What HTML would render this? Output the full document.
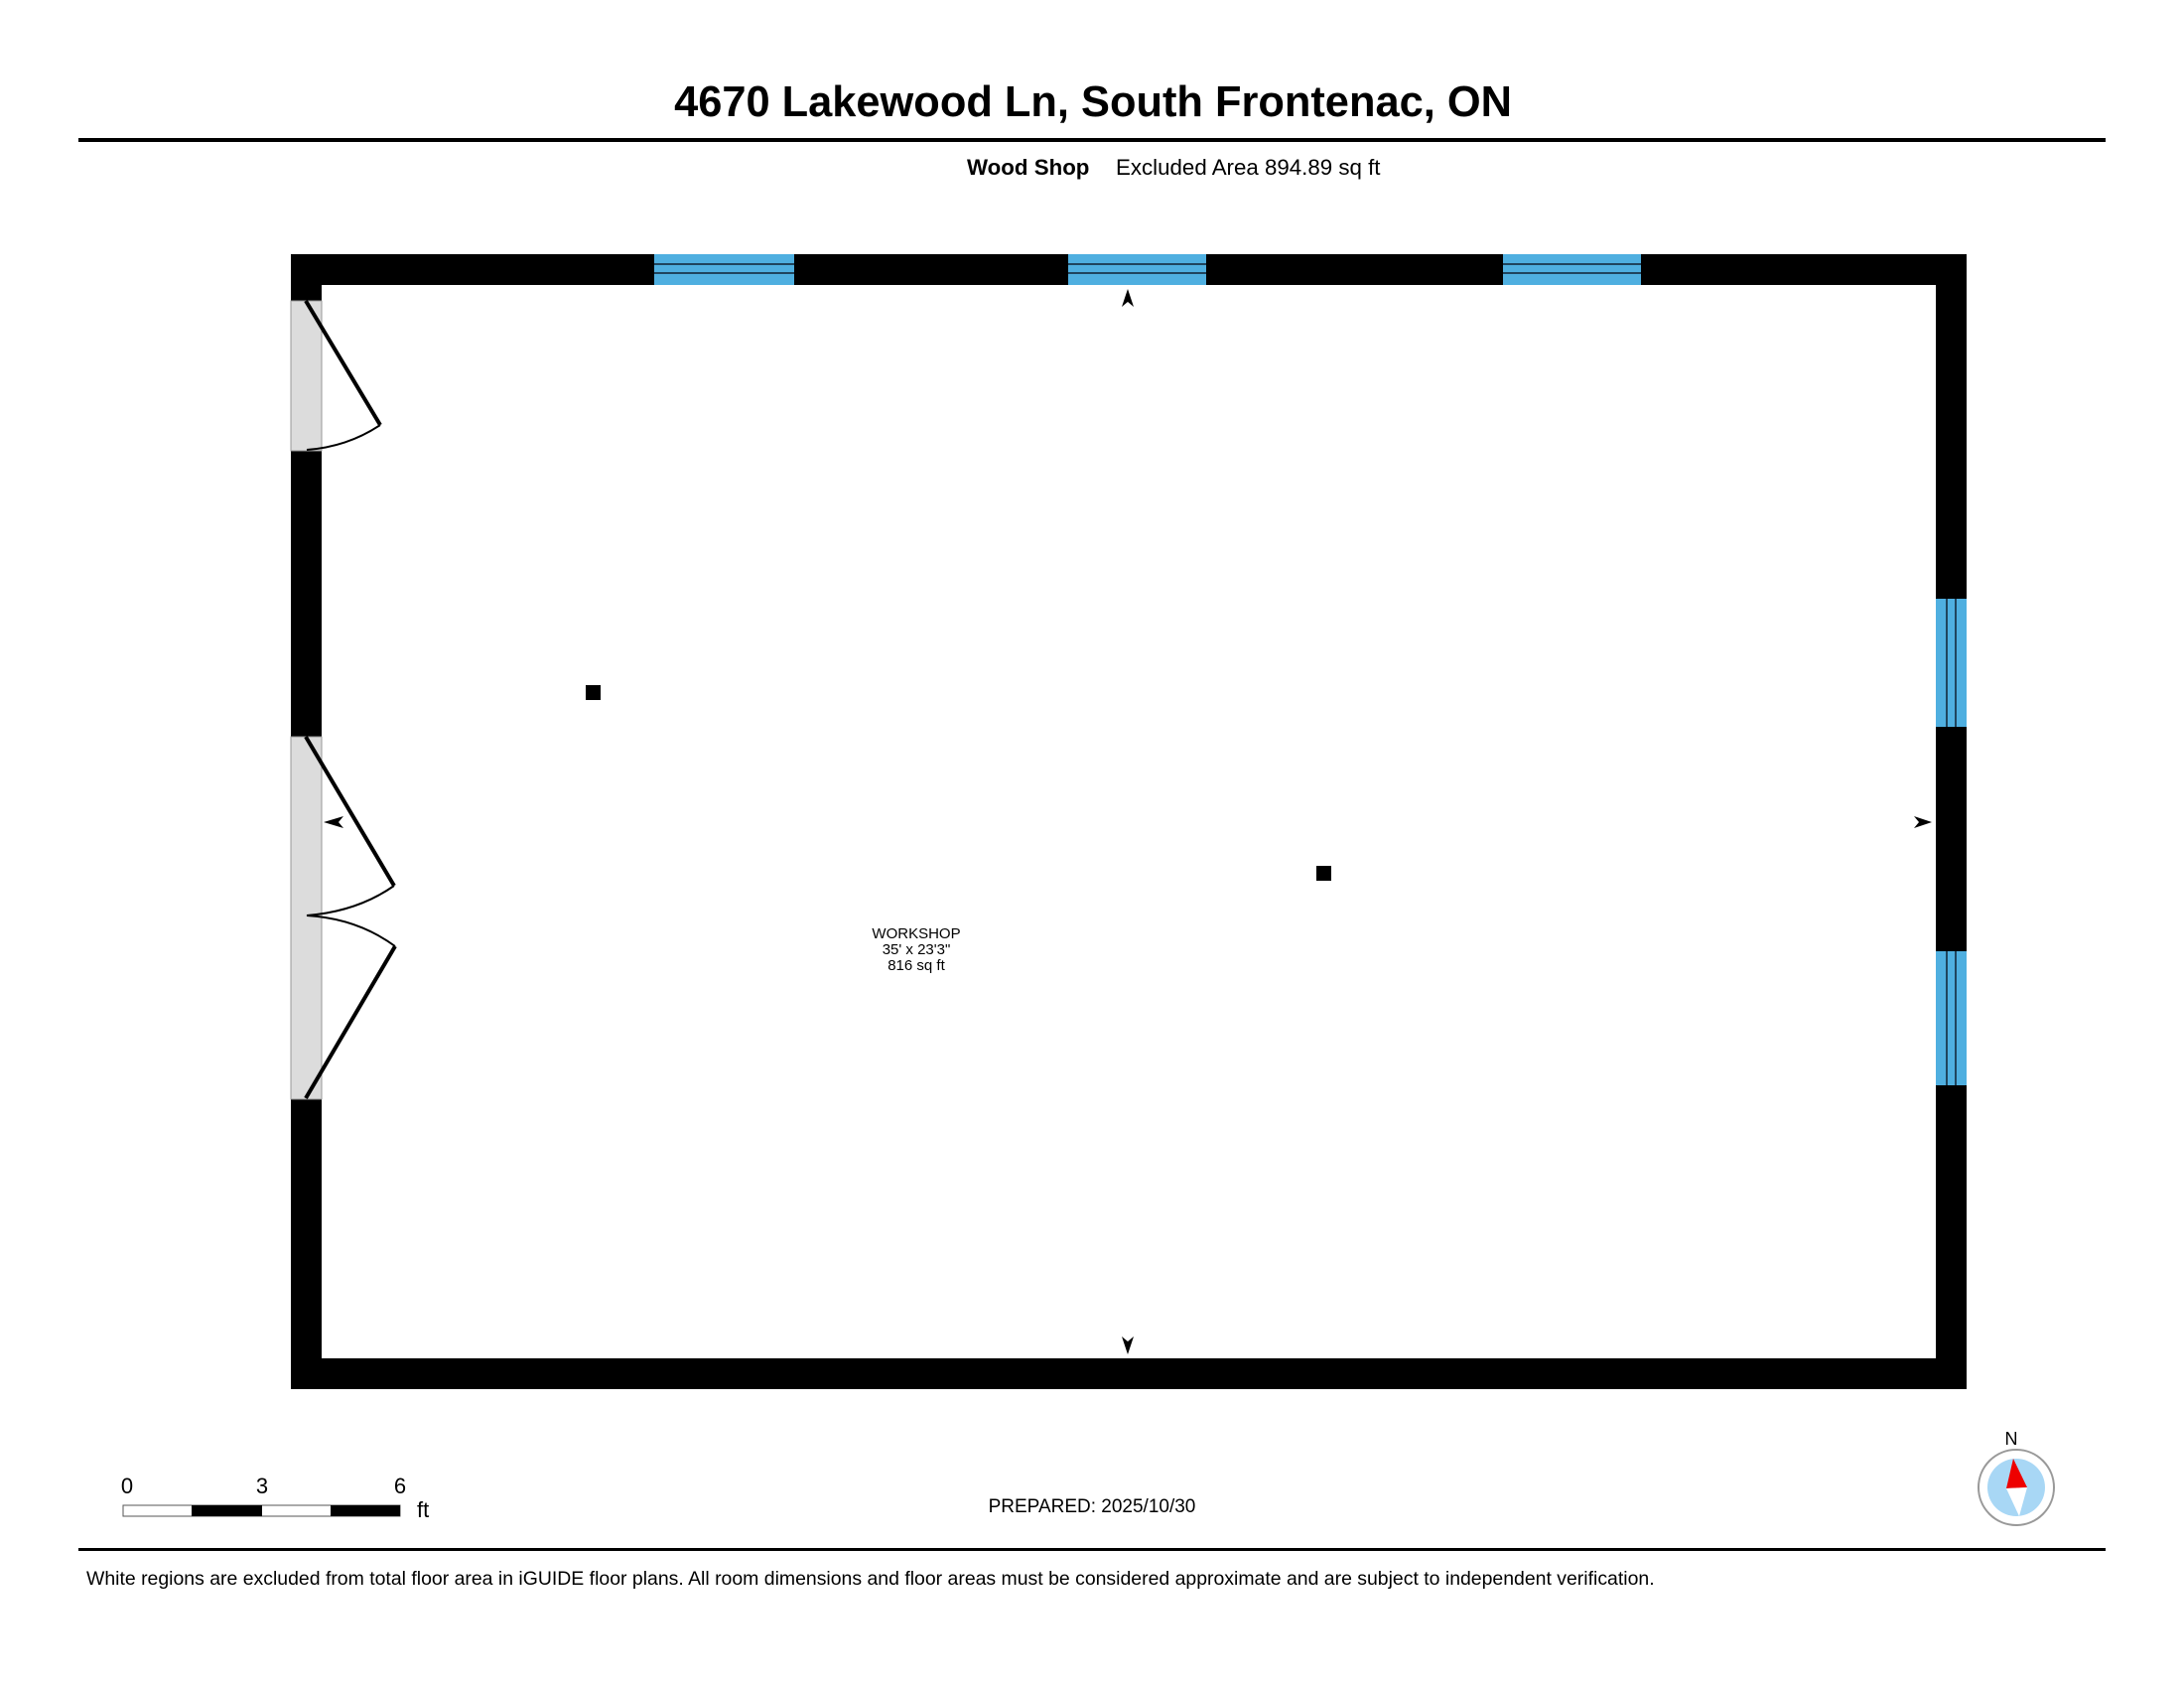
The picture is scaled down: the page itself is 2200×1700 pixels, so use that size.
<!DOCTYPE html>
<html><head><meta charset="utf-8"><style>
body{margin:0;background:#fff;}
svg{display:block}
text{font-family:"Liberation Sans",Arial,sans-serif}
</style></head><body>
<svg width="2200" height="1700" viewBox="0 0 2200 1700" xmlns="http://www.w3.org/2000/svg">
<text x="1101" y="117" font-size="43.4" font-weight="bold" text-anchor="middle">4670 Lakewood Ln, South Frontenac, ON</text>
<rect x="79" y="139" width="2042" height="4" fill="#000"/>
<text x="974" y="176" font-size="22.3" font-weight="bold">Wood Shop</text>
<text x="1124" y="176" font-size="22.3">Excluded Area 894.89 sq ft</text>

<rect x="293" y="256" width="1688" height="31" fill="#000"/>
<rect x="293" y="1368" width="1688" height="31" fill="#000"/>
<rect x="293" y="256" width="31" height="1143" fill="#000"/>
<rect x="1950" y="256" width="31" height="1143" fill="#000"/>
<rect x="293" y="303" width="31" height="151" fill="#dcdcdc" stroke="#999" stroke-width="1"/>
<rect x="293" y="742" width="31" height="365" fill="#dcdcdc" stroke="#999" stroke-width="1"/>
<g fill="#4fafe0">
<rect x="659" y="256" width="141" height="31"/>
<rect x="1076" y="256" width="139" height="31"/>
<rect x="1514" y="256" width="139" height="31"/>
<rect x="1950" y="603" width="31" height="129"/>
<rect x="1950" y="958" width="31" height="135"/>
</g>
<g stroke="#123" stroke-width="1.5">
<line x1="659" y1="266" x2="800" y2="266"/><line x1="659" y1="275" x2="800" y2="275"/>
<line x1="1076" y1="266" x2="1215" y2="266"/><line x1="1076" y1="275" x2="1215" y2="275"/>
<line x1="1514" y1="266" x2="1653" y2="266"/><line x1="1514" y1="275" x2="1653" y2="275"/>
<line x1="1961" y1="603" x2="1961" y2="732"/><line x1="1970" y1="603" x2="1970" y2="732"/>
<line x1="1961" y1="958" x2="1961" y2="1093"/><line x1="1970" y1="958" x2="1970" y2="1093"/>
</g>
<g fill="none" stroke="#000">
<line x1="308" y1="303" x2="383" y2="428" stroke-width="4"/>
<path d="M383 428 Q350 450 309 453" stroke-width="2"/>
<line x1="308" y1="742" x2="397" y2="892" stroke-width="4"/>
<path d="M397 892 Q360 918 309 922 Q360 925 398 953" stroke-width="2"/>
<line x1="398" y1="953" x2="308" y2="1106" stroke-width="4"/>
</g>
<g fill="#000">
<path d="M1136 291 L1130 309 L1136 304 L1142 309 Z"/>
<path d="M1136 1364 L1130 1346 L1136 1351 L1142 1346 Z"/>
<path d="M1946 828 L1928 822 L1933 828 L1928 834 Z"/>
<path d="M326 828 L346 822 L341 828 L346 834 Z"/>
<rect x="590" y="690" width="15" height="15"/>
<rect x="1326" y="872" width="15" height="15"/>
</g>
<text x="923" y="945" font-size="15" text-anchor="middle">WORKSHOP</text>
<text x="923" y="961" font-size="15" text-anchor="middle">35' x 23'3"</text>
<text x="923" y="977" font-size="15" text-anchor="middle">816 sq ft</text>

<rect x="124" y="1516" width="279" height="11" fill="#fff" stroke="#555" stroke-width="1"/>
<rect x="193" y="1516" width="71" height="11" fill="#000"/>
<rect x="333" y="1516" width="70" height="11" fill="#000"/>
<text x="128" y="1504" font-size="22" text-anchor="middle">0</text>
<text x="264" y="1504" font-size="22" text-anchor="middle">3</text>
<text x="403" y="1504" font-size="22" text-anchor="middle">6</text>
<text x="420" y="1528" font-size="22">ft</text>
<text x="1100" y="1523" font-size="19" text-anchor="middle">PREPARED: 2025/10/30</text>

<text x="2026" y="1455" font-size="18" text-anchor="middle">N</text>
<circle cx="2031" cy="1498" r="38" fill="#fff" stroke="#999" stroke-width="2"/>
<circle cx="2031" cy="1498" r="29" fill="#a8d7f5"/>
<path d="M2028 1469 L2042 1498 L2021 1499 Z" fill="#e00"/>
<path d="M2021 1499 L2042 1498 L2034 1527 Z" fill="#fff"/>

<rect x="79" y="1559" width="2042" height="3" fill="#000"/>
<text x="87" y="1596" font-size="19.45">White regions are excluded from total floor area in iGUIDE floor plans. All room dimensions and floor areas must be considered approximate and are subject to independent verification.</text>
</svg>
</body></html>
